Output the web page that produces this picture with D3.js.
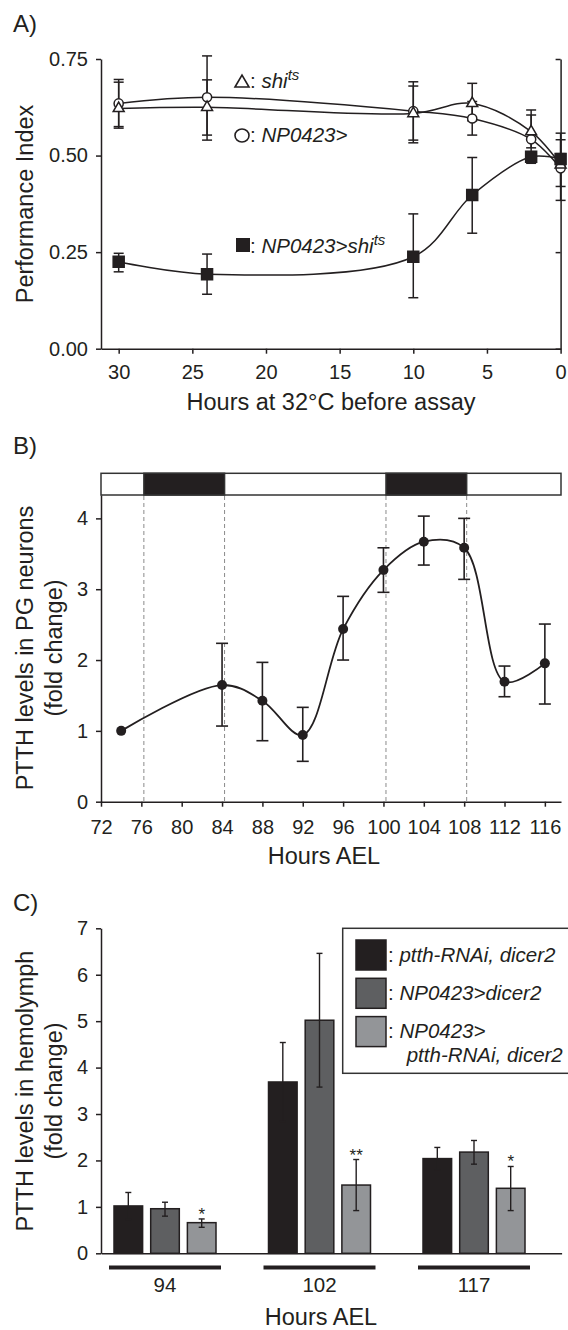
<!DOCTYPE html>
<html>
<head>
<meta charset="utf-8">
<script src="https://cdn.jsdelivr.net/npm/d3@7"></script>
<style>
body { margin: 0; background: #fff; }
svg { display: block; font-family: "Liberation Sans", Arial, sans-serif; fill: #231f20; }
</style>
</head>
<body>
<svg id="fig" width="568" height="1330"></svg>
<script>
// ---- panel A: performance index vs hours at 32C
var hoursA = [30, 24, 10, 6, 2, 0];
var shiTs = [0.622, 0.625, 0.609, 0.635, 0.562, 0.476];
var shiTsLo = [0.575, 0.553, 0.540, 0.590, 0.520, 0.420];
var shiTsHi = [0.690, 0.696, 0.680, 0.687, 0.605, 0.541];
var np0423 = [0.635, 0.651, 0.615, 0.596, 0.542, 0.467];
var np0423Lo = [0.571, 0.540, 0.533, 0.553, 0.490, 0.384];
var np0423Hi = [0.697, 0.758, 0.691, 0.640, 0.618, 0.558];
var np0423Shi = [0.225, 0.193, 0.238, 0.398, 0.497, 0.491];
var np0423ShiLo = [0.199, 0.141, 0.132, 0.299, 0.480, 0.475];
var np0423ShiHi = [0.247, 0.245, 0.349, 0.495, 0.510, 0.505];
var ticksAx = [30, 25, 20, 15, 10, 5, 0];
var ticksAy = [0, 0.25, 0.5, 0.75];

// ---- panel B: PTTH in PG neurons
var hoursB = [74, 84, 88, 92, 96, 100, 104, 108, 112, 116];
var ptthPG = [1.0, 1.647, 1.426, 0.941, 2.437, 3.27, 3.67, 3.585, 1.694, 1.953];
var ptthPGLo = [1.0, 1.068, 0.861, 0.570, 2.0, 2.956, 3.341, 3.139, 1.482, 1.379];
var ptthPGHi = [1.0, 2.236, 1.967, 1.332, 2.899, 3.585, 4.032, 4.0, 1.915, 2.508];
var darkPeriods = [[76.25, 84.25], [100.25, 108.25]];
var ticksBx = [72, 76, 80, 84, 88, 92, 96, 100, 104, 108, 112, 116];
var ticksBy = [0, 1, 2, 3, 4];

// ---- panel C: PTTH in hemolymph
var groupsC = ["94", "102", "117"];
var seriesC = ["rnai", "gal4", "knock"];
var rnaiCtrl = [1.02, 3.69, 2.04];
var rnaiCtrlLo = [0.73, 2.84, 1.80];
var rnaiCtrlHi = [1.31, 4.54, 2.28];
var gal4Ctrl = [0.96, 5.02, 2.18];
var gal4CtrlLo = [0.80, 3.58, 1.92];
var gal4CtrlHi = [1.10, 6.46, 2.43];
var knockDown = [0.66, 1.47, 1.40];
var knockDownLo = [0.56, 0.92, 0.92];
var knockDownHi = [0.74, 2.02, 1.87];
var starsC = ["*", "**", "*"];
var ticksCy = [0, 1, 2, 3, 4, 5, 6, 7];

var ink = "#231f20";
var svg = d3.select("#fig");

function styleAxis(g) {
  g.selectAll("path.domain").attr("stroke", ink).attr("stroke-width", 1.5);
  g.selectAll(".tick line").attr("stroke", ink).attr("stroke-width", 1.5);
  g.selectAll(".tick text").attr("fill", ink).style("font-size", "20px")
    .style("font-family", "'Liberation Sans', Arial, sans-serif");
}

function panelLabel(txt, y) {
  svg.append("text").attr("x", 13).attr("y", y).text(txt)
    .style("font-size", "24px").attr("fill", ink);
}

function yTitle(lines, cy) {
  var xs = [25, 54];
  lines.forEach(function(l, i) {
    svg.append("text")
      .attr("transform", "translate(" + xs[i] + "," + cy + ") rotate(-90)")
      .attr("text-anchor", "middle").attr("dy", "0.36em")
      .style("font-size", "23.5px").attr("fill", ink).text(l);
  });
}

function xTitle(txt, cx, y) {
  svg.append("text").attr("x", cx).attr("y", y).attr("text-anchor", "middle")
    .style("font-size", "23.5px").attr("fill", ink).text(txt);
}

// =================== A ===================
panelLabel("A)", 32);
var xA = d3.scaleLinear().domain([31.2, 0]).range([101, 560.6]);
var yA = d3.scaleLinear().domain([0, 0.75]).range([348.7, 59]);

svg.append("g").attr("transform", "translate(0,348.7)")
  .call(d3.axisBottom(xA).tickValues(ticksAx).tickFormat(d3.format("d")).tickSize(5).tickPadding(11).tickSizeOuter(0))
  .call(styleAxis);
svg.append("g").attr("transform", "translate(101,0)")
  .call(d3.axisLeft(yA).tickValues(ticksAy).tickFormat(d3.format(".2f")).tickSize(5).tickPadding(8).tickSizeOuter(0))
  .call(styleAxis);
svg.append("g").attr("transform", "translate(560.6,0)")
  .call(d3.axisRight(yA).tickValues(ticksAy).tickFormat("").tickSize(-5).tickSizeOuter(0))
  .call(styleAxis);

yTitle(["Performance Index"], 204);
xTitle("Hours at 32\u00B0C before assay", 331, 410);

var seriesA = [
  {v: np0423, lo: np0423Lo, hi: np0423Hi, sym: d3.symbolCircle, size: 66, fill: "#fff"},
  {v: shiTs, lo: shiTsLo, hi: shiTsHi, sym: d3.symbolTriangle, size: 52, fill: "#fff"},
  {v: np0423Shi, lo: np0423ShiLo, hi: np0423ShiHi, sym: d3.symbolSquare, size: 121, fill: ink}
];
var lineA = d3.line().x(function(d) { return xA(d[0]); }).y(function(d) { return yA(d[1]); })
  .curve(d3.curveCatmullRom.alpha(0.5));

seriesA.forEach(function(s) {
  var pts = hoursA.map(function(h, i) { return [h, s.v[i], s.lo[i], s.hi[i]]; });
  svg.append("path").datum(pts).attr("d", lineA)
    .attr("fill", "none").attr("stroke", ink).attr("stroke-width", 1.5);
  var eb = svg.append("g").selectAll("g").data(pts).enter().append("g");
  eb.append("line").attr("x1", function(d) { return xA(d[0]); }).attr("x2", function(d) { return xA(d[0]); })
    .attr("y1", function(d) { return yA(d[2]); }).attr("y2", function(d) { return yA(d[3]); });
  eb.append("line").attr("x1", function(d) { return xA(d[0]) - 5; }).attr("x2", function(d) { return xA(d[0]) + 5; })
    .attr("y1", function(d) { return yA(d[3]); }).attr("y2", function(d) { return yA(d[3]); });
  eb.append("line").attr("x1", function(d) { return xA(d[0]) - 5; }).attr("x2", function(d) { return xA(d[0]) + 5; })
    .attr("y1", function(d) { return yA(d[2]); }).attr("y2", function(d) { return yA(d[2]); });
  eb.selectAll("line").attr("stroke", ink).attr("stroke-width", 1.5);
  s.pts = pts;
});
seriesA.forEach(function(s) {
  svg.append("g").selectAll("path").data(s.pts).enter().append("path")
    .attr("transform", function(d) { return "translate(" + xA(d[0]) + "," + yA(d[1]) + ")"; })
    .attr("d", d3.symbol().type(s.sym).size(s.size))
    .attr("fill", s.fill).attr("stroke", ink).attr("stroke-width", 1.5);
});

// legend A
var legA = svg.append("g").style("font-size", "20.5px").attr("fill", ink);
legA.append("path").attr("d", "M235,87 L242,75 L249,87 Z").attr("fill", "#fff").attr("stroke", ink).attr("stroke-width", 1.6);
var t1 = legA.append("text").attr("x", 250).attr("y", 87.5);
t1.append("tspan").text(": ");
t1.append("tspan").style("font-style", "italic").text("shi");
t1.append("tspan").style("font-style", "italic").style("font-size", "15px").attr("dy", -8).text("ts");
legA.append("ellipse").attr("cx", 242).attr("cy", 135.5).attr("rx", 7).attr("ry", 6.5)
  .attr("fill", "#fff").attr("stroke", ink).attr("stroke-width", 1.6);
var t2 = legA.append("text").attr("x", 250).attr("y", 142);
t2.append("tspan").text(": ");
t2.append("tspan").style("font-style", "italic").text("NP0423>");
legA.append("rect").attr("x", 236).attr("y", 238).attr("width", 14).attr("height", 14).attr("fill", ink);
var t3 = legA.append("text").attr("x", 250).attr("y", 252.5);
t3.append("tspan").text(": ");
t3.append("tspan").style("font-style", "italic").text("NP0423>shi");
t3.append("tspan").style("font-style", "italic").style("font-size", "15px").attr("dy", -8).text("ts");

// =================== B ===================
panelLabel("B)", 454);
var xB = d3.scaleLinear().domain([72, 117.6]).range([101, 561]);
var yB = d3.scaleLinear().domain([0, 4.33]).range([801.7, 495]);

// light/dark bar
svg.append("rect").attr("x", xB(72)).attr("y", 473.3).attr("width", xB(117.6) - xB(72)).attr("height", 21.7)
  .attr("fill", "#fff").attr("stroke", "#333").attr("stroke-width", 1.5);
svg.append("g").selectAll("rect").data(darkPeriods).enter().append("rect")
  .attr("x", function(d) { return xB(d[0]); }).attr("y", 473.3)
  .attr("width", function(d) { return xB(d[1]) - xB(d[0]); }).attr("height", 21.7)
  .attr("fill", ink).attr("stroke", "#333").attr("stroke-width", 1.5);
var edges = [];
darkPeriods.forEach(function(p) { edges.push(p[0], p[1]); });
svg.append("g").selectAll("line").data(edges).enter().append("line")
  .attr("x1", function(d) { return xB(d); }).attr("x2", function(d) { return xB(d); })
  .attr("y1", 496).attr("y2", 801.7)
  .attr("stroke", "#8a8a8a").attr("stroke-width", 1).attr("stroke-dasharray", "4,3");

svg.append("g").attr("transform", "translate(0,801.7)")
  .call(d3.axisBottom(xB).tickValues(ticksBx).tickFormat(d3.format("d")).tickSize(5).tickPadding(13).tickSizeOuter(0))
  .call(styleAxis);
svg.append("g").attr("transform", "translate(101,0)")
  .call(d3.axisLeft(yB).tickValues(ticksBy).tickFormat(d3.format("d")).tickSize(5).tickPadding(8).tickSizeOuter(0))
  .call(styleAxis);

yTitle(["PTTH levels in PG neurons", "(fold change)"], 648);
xTitle("Hours AEL", 324, 864);

var ptsB = hoursB.map(function(h, i) { return [h, ptthPG[i], ptthPGLo[i], ptthPGHi[i]]; });
svg.append("path").datum(ptsB)
  .attr("d", d3.line().x(function(d) { return xB(d[0]); }).y(function(d) { return yB(d[1]); }).curve(d3.curveCatmullRom.alpha(0.5)))
  .attr("fill", "none").attr("stroke", ink).attr("stroke-width", 1.8);
var ebB = svg.append("g").selectAll("g").data(ptsB.filter(function(d) { return d[3] > d[2]; })).enter().append("g");
ebB.append("line").attr("x1", function(d) { return xB(d[0]); }).attr("x2", function(d) { return xB(d[0]); })
  .attr("y1", function(d) { return yB(d[2]); }).attr("y2", function(d) { return yB(d[3]); });
ebB.append("line").attr("x1", function(d) { return xB(d[0]) - 6; }).attr("x2", function(d) { return xB(d[0]) + 6; })
  .attr("y1", function(d) { return yB(d[3]); }).attr("y2", function(d) { return yB(d[3]); });
ebB.append("line").attr("x1", function(d) { return xB(d[0]) - 6; }).attr("x2", function(d) { return xB(d[0]) + 6; })
  .attr("y1", function(d) { return yB(d[2]); }).attr("y2", function(d) { return yB(d[2]); });
ebB.selectAll("line").attr("stroke", ink).attr("stroke-width", 1.6);
svg.append("g").selectAll("circle").data(ptsB).enter().append("circle")
  .attr("cx", function(d) { return xB(d[0]); }).attr("cy", function(d) { return yB(d[1]); })
  .attr("r", 5).attr("fill", ink);

// =================== C ===================
panelLabel("C)", 911);
var yC = d3.scaleLinear().domain([0, 7]).range([1253.3, 928.3]);
var xC = d3.scalePoint().domain(groupsC).range([165, 474]);
var xSub = d3.scaleBand().domain(seriesC).range([-51, 51]).paddingInner(0.22);
var colorC = d3.scaleOrdinal().domain(seriesC).range([ink, "#5e5f61", "#939598"]);

svg.append("g").attr("transform", "translate(0,1253.3)")
  .call(d3.axisBottom(d3.scaleLinear().domain([0, 1]).range([101, 561.6])).tickValues([]).tickSizeOuter(0))
  .call(styleAxis);
svg.append("g").attr("transform", "translate(101,0)")
  .call(d3.axisLeft(yC).tickValues(ticksCy).tickFormat(d3.format("d")).tickSize(5).tickPadding(8).tickSizeOuter(0))
  .call(styleAxis);

yTitle(["PTTH levels in hemolymph", "(fold change)"], 1091);
xTitle("Hours AEL", 321, 1325);

var barData = [];
groupsC.forEach(function(g, i) {
  barData.push({g: g, s: "rnai", v: rnaiCtrl[i], lo: rnaiCtrlLo[i], hi: rnaiCtrlHi[i]});
  barData.push({g: g, s: "gal4", v: gal4Ctrl[i], lo: gal4CtrlLo[i], hi: gal4CtrlHi[i]});
  barData.push({g: g, s: "knock", v: knockDown[i], lo: knockDownLo[i], hi: knockDownHi[i], star: starsC[i]});
});
function bx(d) { return xC(d.g) + xSub(d.s); }
function bc(d) { return bx(d) + xSub.bandwidth() / 2; }

svg.append("g").selectAll("rect").data(barData).enter().append("rect")
  .attr("x", bx).attr("width", xSub.bandwidth())
  .attr("y", function(d) { return yC(d.v); }).attr("height", function(d) { return yC(0) - yC(d.v); })
  .attr("fill", function(d) { return colorC(d.s); }).attr("stroke", ink).attr("stroke-width", 1.5);

var ebC = svg.append("g").selectAll("g").data(barData).enter().append("g");
ebC.append("line").attr("x1", bc).attr("x2", bc)
  .attr("y1", function(d) { return yC(d.lo); }).attr("y2", function(d) { return yC(d.hi); });
ebC.append("line").attr("x1", function(d) { return bc(d) - 3; }).attr("x2", function(d) { return bc(d) + 3; })
  .attr("y1", function(d) { return yC(d.hi); }).attr("y2", function(d) { return yC(d.hi); });
ebC.append("line").attr("x1", function(d) { return bc(d) - 3; }).attr("x2", function(d) { return bc(d) + 3; })
  .attr("y1", function(d) { return yC(d.lo); }).attr("y2", function(d) { return yC(d.lo); });
ebC.selectAll("line").attr("stroke", ink).attr("stroke-width", 1.4);

svg.append("g").selectAll("text").data(barData.filter(function(d) { return d.star; })).enter().append("text")
  .attr("x", bc).attr("y", function(d) { return yC(d.hi) + 1; })
  .attr("text-anchor", "middle").style("font-size", "17px").attr("fill", ink)
  .text(function(d) { return d.star; });

// group underline bars + labels
svg.append("g").selectAll("rect").data(groupsC).enter().append("rect")
  .attr("x", function(d) { return xC(d) - 56; }).attr("width", 112)
  .attr("y", 1265.5).attr("height", 4).attr("fill", ink);
svg.append("g").selectAll("text").data(groupsC).enter().append("text")
  .attr("x", function(d) { return xC(d); }).attr("y", 1291.5)
  .attr("text-anchor", "middle").style("font-size", "20.5px").attr("fill", ink)
  .text(function(d) { return d; });

// legend C
var legC = svg.append("g").attr("fill", ink).style("font-size", "20.5px");
legC.append("rect").attr("x", 342.7).attr("y", 928.3).attr("width", 240).attr("height", 145)
  .attr("fill", "#fff").attr("stroke", "#333").attr("stroke-width", 1.5);
var legLabels = [["ptth-RNAi, dicer2"], ["NP0423>dicer2"], ["NP0423>", "ptth-RNAi, dicer2"]];
seriesC.forEach(function(s, i) {
  var y0 = 940 + i * 38.3;
  legC.append("rect").attr("x", 356).attr("y", y0).attr("width", 30).attr("height", 30)
    .attr("fill", colorC(s)).attr("stroke", ink).attr("stroke-width", 1.5);
  var t = legC.append("text").attr("x", 388).attr("y", y0 + 21.7);
  t.append("tspan").text(": ");
  t.append("tspan").style("font-style", "italic").text(legLabels[i][0]);
  if (legLabels[i][1]) {
    legC.append("text").attr("x", 406.7).attr("y", y0 + 45).style("font-style", "italic").text(legLabels[i][1]);
  }
});
</script>
</body>
</html>
